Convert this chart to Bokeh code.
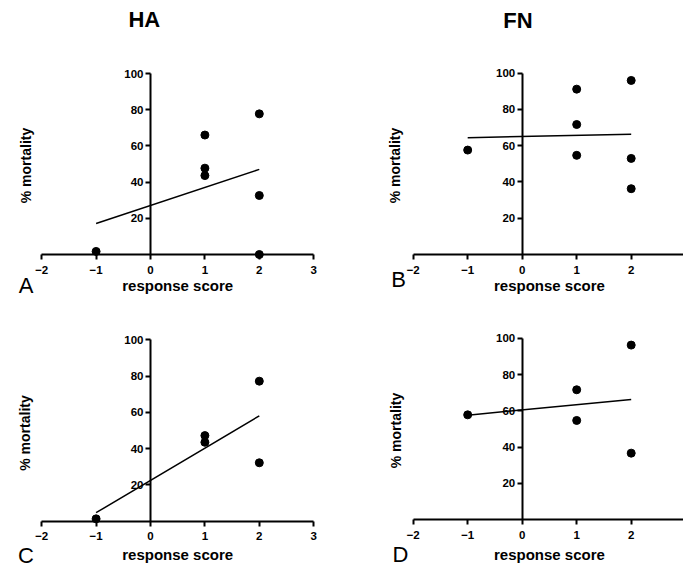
import numpy as np
from bokeh.plotting import figure
from bokeh.models import Range1d, LinearAxis, FixedTicker, Label
from bokeh.layouts import column, row
from bokeh.embed import file_html
from bokeh.resources import INLINE

FONT = "Liberation Sans"

# ---- data -----------------------------------------------------------
x_ticks = [-2, -1, 0, 1, 2, 3]
y_ticks = [20, 40, 60, 80, 100]

a_x = [-1, 1, 1, 1, 2, 2, 2]
a_y = [1.7, 66.0, 47.7, 43.6, 77.7, 32.6, 0.0]

b_x = [-1, 1, 1, 1, 2, 2, 2]
b_y = [57.6, 91.2, 71.7, 54.7, 96.0, 53.0, 36.3]

c_x = [-1, 1, 1, 2, 2]
c_y = [1.3, 47.2, 43.5, 77.2, 32.2]

d_x = [-1, 1, 1, 2, 2]
d_y = [57.8, 71.6, 54.7, 96.2, 36.7]

col_titles = ["HA", "FN"]
panel_letters = ["A", "B", "C", "D"]
x_label = "response score"
y_label = "% mortality"


def make_panel(W, H, ox, oy, ux, uy, xs, ys, letter, letter_pos,
               xlab_mid, ylab_pos, title=None, title_pos=None):
    # ox, oy: pixel position of data origin inside the figure (from top-left)
    x0 = -ox / ux
    x1 = (W - ox) / ux
    y0 = -(H - oy) / uy
    y1 = oy / uy
    p = figure(width=W, height=H, x_range=Range1d(x0, x1), y_range=Range1d(y0, y1),
               x_axis_location=None, y_axis_location=None, toolbar_location=None,
               output_backend="svg", min_border=0, outline_line_color=None,
               background_fill_color="white", border_fill_color="white")
    p.xgrid.visible = False
    p.ygrid.visible = False

    def d(fx, fy):
        return (fx - ox) / ux, (oy - fy) / uy

    for loc, bounds, ticks, standoff in (("below", (-2, 3), x_ticks, 6),
                                          ("left", (0, 100), y_ticks, 2)):
        ax = LinearAxis(fixed_location=0, bounds=bounds, ticker=FixedTicker(ticks=ticks))
        ax.axis_line_width = 2
        ax.axis_line_color = "black"
        ax.major_tick_line_width = 2
        ax.major_tick_line_color = "black"
        ax.major_tick_out = 5
        ax.major_tick_in = 0
        ax.minor_tick_out = 0
        ax.minor_tick_in = 0
        ax.major_label_standoff = standoff
        ax.major_label_text_font = FONT
        ax.major_label_text_font_size = "11.5px"
        ax.major_label_text_font_style = "bold"
        ax.major_label_text_color = "black"
        p.add_layout(ax, loc)

    # regression line from the data
    slope, inter = np.polyfit(xs, ys, 1)
    lx = [min(xs), max(xs)]
    ly = [slope * v + inter for v in lx]
    p.line(lx, ly, line_color="black", line_width=1.5)
    p.scatter(xs, ys, size=8, color="black")

    lx_, ly_ = d(ox + 0.5 * ux, xlab_mid)
    p.add_layout(Label(x=lx_, y=ly_, text=x_label, text_align="center",
                       text_baseline="middle", text_font=FONT,
                       text_font_size="15px", text_font_style="bold",
                       text_color="black"))
    yx, yy = d(*ylab_pos)
    p.add_layout(Label(x=yx, y=yy, text=y_label, angle=np.pi / 2,
                       text_align="center", text_baseline="middle",
                       text_font=FONT, text_font_size="14px",
                       text_font_style="bold", text_color="black"))
    px_, py_ = d(*letter_pos)
    p.add_layout(Label(x=px_, y=py_, text=letter, text_align="center",
                       text_baseline="middle", text_font=FONT,
                       text_font_size="22px", text_color="black"))
    if title is not None:
        tx, ty = d(*title_pos)
        p.add_layout(Label(x=tx, y=ty, text=title, text_align="center",
                           text_baseline="middle", text_font=FONT,
                           text_font_size="22px", text_font_style="bold",
                           text_color="black"))
    return p


pA = make_panel(340, 300, 150, 254, 54.4, 1.81, a_x, a_y, panel_letters[0],
                (25.5, 285), 285, (25, 165), col_titles[0], (143.8, 18.5))
pB = make_panel(343, 300, 181.7, 254, 54.5, 1.813, b_x, b_y, panel_letters[1],
                (58, 279), 285, (54, 165), col_titles[1], (177.5, 19.5))
pC = make_panel(340, 268, 150, 220.7, 54.4, 1.814, c_x, c_y, panel_letters[2],
                (25.5, 254.5), 254, (24.5, 132.5))
pD = make_panel(343, 268, 181.7, 219.3, 54.5, 1.816, d_x, d_y, panel_letters[3],
                (60, 254), 254, (55, 130))

layout = column(row(pA, pB), row(pC, pD))
open("out.html", "w").write(file_html(layout, INLINE))
